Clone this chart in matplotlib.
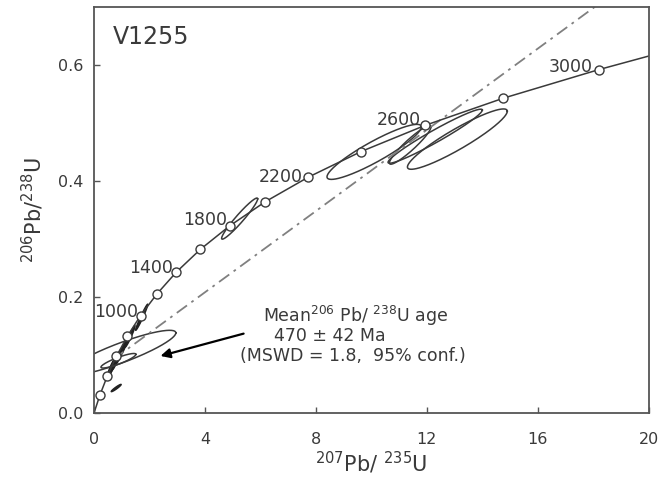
import numpy as np
import matplotlib
matplotlib.use('Agg')
import matplotlib.pyplot as plt

plt.rcParams['font.family'] = ['DejaVu Sans']
plt.rcParams['mathtext.fontset'] = 'dejavusans'

# concordia points (207Pb/235U, 206Pb/238U), markers every 200 Ma
conc_x = [0, 0.2177, 0.4828, 0.8056, 1.1987, 1.6774, 2.2603, 2.9702, 3.8345, 4.8869,
          6.1684, 7.7292, 9.6295, 11.943, 14.762, 18.194, 20.18]
conc_y = [0, 0.0315, 0.0640, 0.0975, 0.1320, 0.1678, 0.2047, 0.2429, 0.2820, 0.3223,
          0.3639, 0.4065, 0.4506, 0.4958, 0.5426, 0.5917, 0.6175]

# age labels
age_labels = ['1000', '1400', '1800', '2200', '2600', '3000']
age_lx = [0.80, 2.05, 3.99, 6.75, 10.99, 17.2]
age_ly = [0.174, 0.25, 0.333, 0.407, 0.505, 0.596]

# discordia line
disc_x = [0.7, 20]
disc_y = [0.0925, 0.768]

# error ellipses: centre x, centre y, half length x, half length y, half width y
ell_cx = [1.00, 0.88, 0.80, 0.58, 0.66, 0.74, 0.82, 0.95, 1.12, 1.30, 1.72, 5.25, 10.1, 11.4, 12.3, 13.1]
ell_cy = [0.104, 0.090, 0.043, 0.074, 0.080, 0.086, 0.092, 0.102, 0.118, 0.132, 0.165, 0.335, 0.450, 0.462, 0.477, 0.472]
ell_dx = [1.95, 0.63, 0.18, 0.14, 0.14, 0.15, 0.15, 0.16, 0.16, 0.18, 0.22, 0.65, 1.70, 0.75, 1.70, 1.80]
ell_dy = [0.034, 0.011, 0.006, 0.016, 0.016, 0.016, 0.016, 0.017, 0.018, 0.018, 0.022, 0.034, 0.043, 0.031, 0.045, 0.048]
ell_h = [0.018, 0.006, 0.002, 0.005, 0.005, 0.005, 0.005, 0.005, 0.005, 0.005, 0.005, 0.010, 0.020, 0.012, 0.012, 0.020]

ink = '#3a3a3a'

fig = plt.figure(figsize=(6.62, 4.87), dpi=100)
ax = fig.add_axes([0.142, 0.152, 0.838, 0.834])

t = np.linspace(0, 2 * np.pi, 200)
for i in range(len(ell_cx)):
    ex = ell_cx[i] + ell_dx[i] * np.cos(t)
    ey = ell_cy[i] + ell_dy[i] * np.cos(t) + ell_h[i] * np.sin(t)
    if ell_dx[i] < 0.25:
        ax.fill(ex, ey, facecolor='#222222', edgecolor='#222222', lw=1.0)
    else:
        ax.plot(ex, ey, color=ink, lw=1.1)

ax.plot(disc_x, disc_y, color='#808080', lw=1.3, linestyle=(0, (7, 3, 1.5, 3)))

ax.plot(conc_x, conc_y, color=ink, lw=1.1)
ax.plot(conc_x[1:-1], conc_y[1:-1], 'o', ms=6.5, mfc='white', mec=ink, mew=1.0, zorder=5)

for lab, lx, ly in zip(age_labels, age_lx, age_ly):
    ax.text(lx, ly, lab, fontsize=12.5, color=ink, ha='center', va='center')

ax.text(0.68, 0.669, 'V1255', fontsize=17, color=ink, va='top', ha='left')

ax.text(9.44, 0.168, 'Mean$^{206}$ Pb/ $^{238}$U age', fontsize=12.5, color=ink, ha='center', va='center')
ax.text(8.5, 0.132, '470 ± 42 Ma', fontsize=12.5, color=ink, ha='center', va='center')
ax.text(9.33, 0.099, '(MSWD = 1.8,  95% conf.)', fontsize=12.5, color=ink, ha='center', va='center')

ax.annotate('', xy=(2.30, 0.097), xytext=(5.49, 0.138),
            arrowprops=dict(arrowstyle='-|>', color='black', lw=1.6, mutation_scale=14))

ax.set_xlim(0, 20)
ax.set_ylim(0, 0.7)
ax.set_xticks([0, 4, 8, 12, 16, 20])
ax.set_yticks([0.0, 0.2, 0.4, 0.6])
ax.set_yticklabels(['0.0', '0.2', '0.4', '0.6'])
ax.tick_params(direction='in', length=4, width=1, colors='#555555', labelcolor=ink,
               labelsize=11.5)
ax.tick_params(axis='x', pad=14)
ax.tick_params(axis='y', pad=8)
for s in ax.spines.values():
    s.set_color('#555555')
    s.set_linewidth(1.3)

ax.set_xlabel('$^{207}$Pb/ $^{235}$U', fontsize=15, color=ink, labelpad=2)
ax.set_ylabel('$^{206}$Pb/$^{238}$U', fontsize=15, color=ink, labelpad=8)

fig.savefig('out.png', dpi=100)
